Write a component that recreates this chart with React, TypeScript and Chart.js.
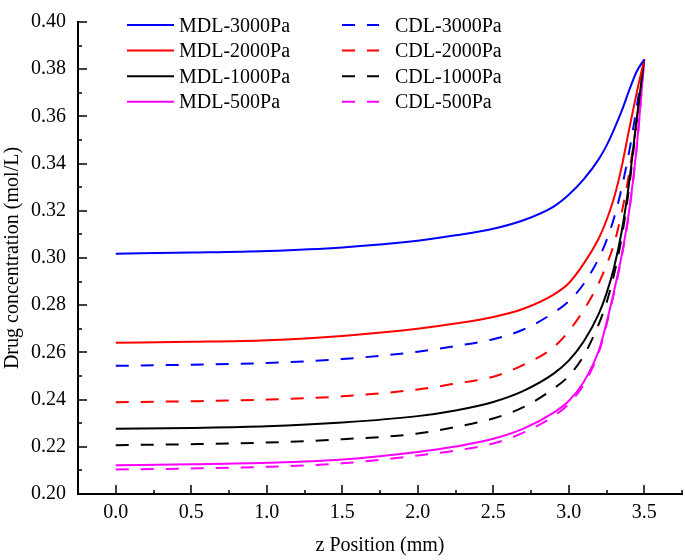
import React, { useEffect, useRef } from "react";
import { Chart, registerables } from "chart.js";

Chart.register(...registerables);

// z position (mm)
const Z = [0, 0.5, 1.0, 1.5, 2.0, 2.25, 2.5, 2.7, 2.9, 3.0, 3.1, 3.2, 3.25, 3.3, 3.35, 3.4, 3.45, 3.5];

// Drug concentration (mol/L)
const MDL_3000 = [0.3018, 0.3023, 0.3030, 0.3045, 0.3073, 0.3096, 0.3124, 0.3160, 0.3218, 0.3268, 0.3334, 0.3420, 0.3476, 0.3545, 0.3622, 0.3710, 0.3790, 0.3842];
const MDL_2000 = [0.2641, 0.2645, 0.2652, 0.2670, 0.2700, 0.2722, 0.2750, 0.2785, 0.2845, 0.2893, 0.2977, 0.3085, 0.3160, 0.3255, 0.3385, 0.3545, 0.3700, 0.3842];
const MDL_1000 = [0.2276, 0.2280, 0.2287, 0.2303, 0.2330, 0.2354, 0.2390, 0.2437, 0.2510, 0.2565, 0.2647, 0.2765, 0.2850, 0.2960, 0.3110, 0.3320, 0.3590, 0.3842];
const MDL_500 = [0.2122, 0.2126, 0.2132, 0.2146, 0.2178, 0.2201, 0.2234, 0.2277, 0.2345, 0.2394, 0.2476, 0.2610, 0.2725, 0.2860, 0.3010, 0.3200, 0.3470, 0.3842];
const CDL_3000 = [0.2543, 0.2548, 0.2555, 0.2572, 0.2603, 0.2627, 0.2656, 0.2697, 0.2768, 0.2817, 0.2891, 0.3000, 0.3075, 0.3170, 0.3295, 0.3450, 0.3640, 0.3842];
const CDL_2000 = [0.2389, 0.2393, 0.2400, 0.2414, 0.2443, 0.2468, 0.2497, 0.2547, 0.2622, 0.2690, 0.2780, 0.2895, 0.2970, 0.3060, 0.3190, 0.3360, 0.3580, 0.3842];
const CDL_1000 = [0.2207, 0.2211, 0.2218, 0.2232, 0.2256, 0.2284, 0.2320, 0.2368, 0.2447, 0.2500, 0.2587, 0.2722, 0.2810, 0.2930, 0.3085, 0.3300, 0.3580, 0.3842];
const CDL_500 = [0.2104, 0.2108, 0.2115, 0.2130, 0.2163, 0.2184, 0.2214, 0.2260, 0.2330, 0.2382, 0.2466, 0.2602, 0.2717, 0.2852, 0.3003, 0.3194, 0.3465, 0.3842];

const SERIES_LABELS = ["MDL-3000Pa", "MDL-2000Pa", "MDL-1000Pa", "MDL-500Pa", "CDL-3000Pa", "CDL-2000Pa", "CDL-1000Pa", "CDL-500Pa"];

const X_TICKS = [0, 0.5, 1.0, 1.5, 2.0, 2.5, 3.0, 3.5];
const Y_TICKS = [0.2, 0.22, 0.24, 0.26, 0.28, 0.3, 0.32, 0.34, 0.36, 0.38, 0.4];

const FONT = "'Liberation Serif', 'Times New Roman', serif";

export default function App() {
  const ref = useRef<HTMLCanvasElement>(null);

  useEffect(() => {
    document.body.style.margin = "0";
    const canvas = ref.current;
    if (!canvas) return;

    const mk = (label: string, data: number[], color: string, dashed: boolean) => ({
      label,
      data: Z.map((x, i) => ({ x, y: data[i] })),
      borderColor: color,
      backgroundColor: color,
      borderWidth: 2,
      borderDash: dashed ? [13, 12] : [],
      pointRadius: 0,
      pointHoverRadius: 0,
      cubicInterpolationMode: "monotone" as const,
      fill: false,
    });

    const innerTicks = {
      id: "innerTicks",
      afterDraw(chart: any) {
        const { ctx, chartArea } = chart;
        const xs = chart.scales.x;
        const ys = chart.scales.y;
        ctx.save();
        ctx.strokeStyle = "#000";
        ctx.lineWidth = 1.5;
        ctx.beginPath();
        for (let k = 1; k <= 16; k++) {
          const v = -0.25 + k * 0.25;
          const px = Math.round(xs.getPixelForValue(v));
          const len = k % 2 === 1 ? 9 : 4;
          ctx.moveTo(px, chartArea.bottom);
          ctx.lineTo(px, chartArea.bottom - len);
        }
        for (let k = 1; k <= 20; k++) {
          const v = 0.2 + k * 0.01;
          const py = Math.round(ys.getPixelForValue(v));
          const len = k % 2 === 0 ? 9 : 4;
          ctx.moveTo(chartArea.left, py);
          ctx.lineTo(chartArea.left + len, py);
        }
        ctx.stroke();
        ctx.restore();
      },
    };

    const boxLegend = {
      id: "boxLegend",
      afterDraw(chart: any) {
        const { ctx } = chart;
        ctx.save();
        ctx.font = `20px ${FONT}`;
        ctx.textBaseline = "alphabetic";
        chart.data.datasets.forEach((ds: any, i: number) => {
          const col = i < 4 ? 0 : 1;
          const row = i % 4;
          const y = 25 + row * 25.6;
          const x0 = col === 0 ? 127 : 342;
          const x1 = col === 0 ? 174 : 379;
          const tx = col === 0 ? 179 : 395;
          ctx.strokeStyle = ds.borderColor;
          ctx.lineWidth = 2;
          ctx.setLineDash(ds.borderDash || []);
          ctx.beginPath();
          ctx.moveTo(x0, y);
          ctx.lineTo(x1, y);
          ctx.stroke();
          ctx.setLineDash([]);
          ctx.fillStyle = "#000";
          ctx.fillText(ds.label, tx, y + 6.6);
        });
        ctx.restore();
      },
    };

    const chart = new Chart(canvas, {
      type: "line",
      data: {
        datasets: [
          mk(SERIES_LABELS[0], MDL_3000, "#0000FF", false),
          mk(SERIES_LABELS[1], MDL_2000, "#FF0000", false),
          mk(SERIES_LABELS[2], MDL_1000, "#000000", false),
          mk(SERIES_LABELS[3], MDL_500, "#FF00FF", false),
          mk(SERIES_LABELS[4], CDL_3000, "#0000FF", true),
          mk(SERIES_LABELS[5], CDL_2000, "#FF0000", true),
          mk(SERIES_LABELS[6], CDL_1000, "#000000", true),
          mk(SERIES_LABELS[7], CDL_500, "#FF00FF", true),
        ],
      },
      options: {
        animation: false,
        responsive: false,
        devicePixelRatio: 1,
        events: [],
        layout: { padding: { top: 10, right: 3, left: 0, bottom: 0 } },
        plugins: { legend: { display: false }, tooltip: { enabled: false } },
        scales: {
          x: {
            type: "linear",
            min: -0.25,
            max: 3.75,
            grid: { display: false, drawTicks: false },
            border: { display: true, color: "#000", width: 2 },
            ticks: {
              padding: 7,
              color: "#000",
              font: { family: FONT, size: 20, lineHeight: 1.2 },
              maxRotation: 0,
              autoSkip: false,
              callback: (v: any) => Number(v).toFixed(1),
            },
            afterBuildTicks: (s: any) => {
              s.ticks = X_TICKS.map((value) => ({ value }));
            },
            afterFit: (s: any) => {
              s.height = 66;
            },
            title: {
              display: true,
              text: "z Position (mm)",
              color: "#000",
              font: { family: FONT, size: 20, lineHeight: 1.2 },
              padding: { top: 0, bottom: 2 },
            },
          },
          y: {
            type: "linear",
            min: 0.2,
            max: 0.4,
            grid: { display: false, drawTicks: false },
            border: { display: true, color: "#000", width: 2 },
            ticks: {
              padding: 12,
              color: "#000",
              font: { family: FONT, size: 20, lineHeight: 1 },
              autoSkip: false,
              callback: (v: any) => Number(v).toFixed(2),
            },
            afterBuildTicks: (s: any) => {
              s.ticks = Y_TICKS.map((value) => ({ value }));
            },
            afterFit: (s: any) => {
              s.width = 78;
            },
            title: {
              display: true,
              text: "Drug concentration (mol/L)",
              color: "#000",
              font: { family: FONT, size: 20, lineHeight: 1.2 },
              padding: { top: 1, bottom: 0 },
            },
          },
        },
      },
      plugins: [innerTicks, boxLegend],
    } as any);

    return () => chart.destroy();
  }, []);

  return (
    <div style={{ width: 685, height: 560 }}>
      <canvas ref={ref} width={685} height={560} style={{ display: "block", width: 685, height: 560 }} />
    </div>
  );
}
